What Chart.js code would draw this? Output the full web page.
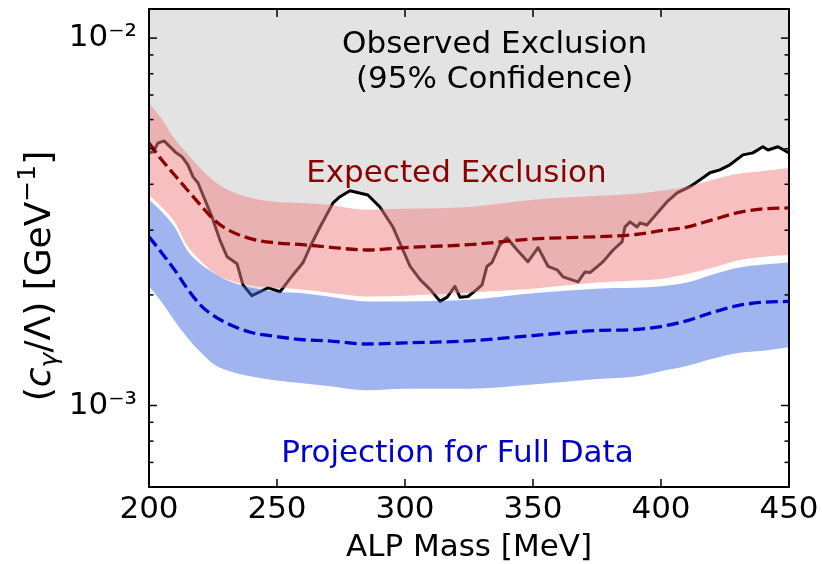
<!DOCTYPE html>
<html>
<head>
<meta charset="utf-8">
<script src="https://cdn.jsdelivr.net/npm/chart.js@4.4.1/dist/chart.umd.min.js"></script>
<style>
html,body{margin:0;padding:0;background:#ffffff;}
#c{display:block;}
</style>
</head>
<body>
<canvas id="c" width="822" height="564"></canvas>
<script>
// ---------- data (limits in units of 1e-3 GeV^-1) ----------
const massGrid = [200,205,210,215,220,225,230,240,250,260,270,285,300,325,350,375,390,400,410,420,430,440,450];

const expectedHi  = [6.66,6.02,5.31,4.84,4.43,4.10,3.89,3.67,3.58,3.56,3.52,3.41,3.43,3.47,3.63,3.72,3.77,3.84,3.94,4.11,4.27,4.35,4.43];
const expectedMed = [5.18,4.66,4.24,3.86,3.52,3.22,3.03,2.84,2.77,2.74,2.70,2.65,2.69,2.74,2.84,2.88,2.92,2.99,3.06,3.20,3.35,3.43,3.45];
const expectedLo  = [3.74,3.47,3.16,2.72,2.48,2.31,2.21,2.12,2.09,2.07,2.03,1.98,1.99,2.03,2.08,2.16,2.19,2.21,2.28,2.37,2.48,2.54,2.57];

const projectionHi  = [3.63,3.37,3.06,2.64,2.43,2.30,2.20,2.09,2.04,2.02,1.98,1.92,1.92,1.94,2.02,2.08,2.09,2.11,2.16,2.27,2.37,2.42,2.45];
const projectionMed = [2.88,2.60,2.34,2.08,1.88,1.76,1.68,1.58,1.54,1.51,1.50,1.47,1.48,1.50,1.55,1.60,1.61,1.64,1.70,1.79,1.87,1.91,1.92];
const projectionLo  = [2.11,1.91,1.70,1.53,1.40,1.30,1.25,1.20,1.17,1.15,1.13,1.10,1.11,1.11,1.14,1.18,1.20,1.24,1.28,1.34,1.39,1.41,1.44];

const obsMass = [200,201.6,203.5,205.9,210.2,212.9,215.2,217.2,219.1,224.6,227.7,230.5,234.4,236.7,240.2,243.4,246.5,251.2,256.3,260.2,
  262.9,266.8,271.9,274.6,278.5,285.5,290.2,295.3,299.2,302.0,305.9,309.8,313.7,316.4,319.5,321.5,324.6,328.1,330.1,332.0,
  334.0,337.1,339.8,343.8,348.0,352.0,355.9,359.4,361.7,367.6,370.3,372.3,377.3,381.3,384.8,385.9,387.9,390.6,391.8,394.5,
  402.3,406.3,411.3,416.4,419.1,423.0,426.9,432.0,435.9,439.8,441.8,445.7,450];
const obsLimit = [4.87,4.90,5.18,5.25,4.90,4.75,4.52,4.19,4.04,3.26,2.82,2.54,2.43,2.13,1.99,2.04,2.09,2.04,2.27,2.45,
  2.70,3.06,3.56,3.70,3.84,3.74,3.47,3.06,2.65,2.39,2.20,2.07,1.92,1.97,2.11,1.97,1.98,2.07,2.13,2.39,
  2.45,2.74,2.86,2.65,2.46,2.69,2.39,2.34,2.24,2.17,2.31,2.30,2.46,2.65,2.79,3.06,3.16,3.06,3.14,3.10,
  3.58,3.79,3.94,4.17,4.30,4.38,4.52,4.81,4.87,5.06,4.96,5.06,4.87];

const xTickValues = [200,250,300,350,400,450];
const yMajorTicks = [1e-3,1e-2];
const yMinorTicks = [6e-4,7e-4,8e-4,9e-4,2e-3,3e-3,4e-3,5e-3,6e-3,7e-3,8e-3,9e-3];

// annotation texts (anchored in data coordinates)
const notes = [
  {text:'Observed Exclusion', x:335, y:9.57e-3, color:'#000000'},
  {text:'(95% Confidence)', x:335, y:7.69e-3, color:'#000000'},
  {text:'Expected Exclusion', x:320.1, y:4.27e-3, color:'#8b0000'},
  {text:'Projection for Full Data', x:320.5, y:7.36e-4, color:'#0000cd'}
];

// ---------- helpers ----------
const UNIT = 1e-3;
const pts = (xs, ys) => xs.map((x, i) => ({x: x, y: ys[i] * UNIT}));
const SUP = {'-':'\u207B','0':'\u2070','1':'\u00B9','2':'\u00B2','3':'\u00B3','4':'\u2074','5':'\u2075','6':'\u2076','7':'\u2077','8':'\u2078','9':'\u2079'};
const sup = n => String(n).split('').map(c => SUP[c]).join('');
const FONT = "'DejaVu Sans'";

const decor = {
  id: 'decor',
  afterDatasetsDraw(chart) {
    const ctx = chart.ctx, xs = chart.scales.x, ys = chart.scales.y;
    ctx.save();
    ctx.font = '31px ' + FONT;
    ctx.textAlign = 'center';
    ctx.textBaseline = 'middle';
    notes.forEach(n => {
      ctx.fillStyle = n.color;
      ctx.fillText(n.text, xs.getPixelForValue(n.x), ys.getPixelForValue(n.y));
    });
    ctx.restore();
  },
  afterDraw(chart) {
    const ctx = chart.ctx, xs = chart.scales.x, ys = chart.scales.y;
    const {left, right, top, bottom} = chart.chartArea;
    ctx.save();
    ctx.strokeStyle = '#000';
    ctx.lineWidth = 1.5;
    const seg = (x1, y1, x2, y2) => { ctx.beginPath(); ctx.moveTo(x1, y1); ctx.lineTo(x2, y2); ctx.stroke(); };
    xTickValues.forEach(v => { const p = xs.getPixelForValue(v); seg(p, bottom, p, bottom - 8); seg(p, top, p, top + 8); });
    yMajorTicks.forEach(v => { const p = ys.getPixelForValue(v); seg(left, p, left + 8, p); seg(right, p, right - 8, p); });
    yMinorTicks.forEach(v => { const p = ys.getPixelForValue(v); seg(left, p, left + 4.5, p); seg(right, p, right - 4.5, p); });
    ctx.lineWidth = 2;
    ctx.strokeRect(left, top, right - left, bottom - top);

    // y-axis title with math styling
    const size = 36;
    const parts = [
      {t:'(', f: size + 'px ' + FONT, dy: 0},
      {t:'c', f: 'italic ' + size + 'px ' + FONT, dy: 0},
      {t:'\u03B3', f: 'italic ' + Math.round(size * 0.7) + 'px ' + FONT, dy: size * 0.2},
      {t:'/\u039B) [GeV', f: size + 'px ' + FONT, dy: 0},
      {t:'\u22121', f: Math.round(size * 0.7) + 'px ' + FONT, dy: -size * 0.42},
      {t:']', f: size + 'px ' + FONT, dy: 0}
    ];
    let total = 0;
    parts.forEach(p => { ctx.font = p.f; p.w = ctx.measureText(p.t).width; total += p.w; });
    const cx = 37, cy = (top + bottom) / 2 + 28;
    ctx.translate(cx, cy);
    ctx.rotate(-Math.PI / 2);
    ctx.fillStyle = '#000';
    ctx.textAlign = 'left';
    ctx.textBaseline = 'alphabetic';
    let x = -total / 2;
    const base = size * 0.36;
    parts.forEach(p => { ctx.font = p.f; ctx.fillText(p.t, x, base + p.dy); x += p.w; });
    ctx.restore();
  }
};

const ctx = document.getElementById('c').getContext('2d');
const bandLine = {borderColor:'rgba(0,0,0,0)', borderWidth:0, pointRadius:0, cubicInterpolationMode:'monotone'};

new Chart(ctx, {
  type: 'line',
  data: {
    datasets: [
      {label:'Projection (median)', data: pts(massGrid, projectionMed), borderColor:'#0000cd', borderWidth:3.3, borderDash:[12,5], pointRadius:0, fill:false, cubicInterpolationMode:'monotone'},
      {label:'Expected (median)', data: pts(massGrid, expectedMed), borderColor:'#8b0000', borderWidth:3.3, borderDash:[12,5], pointRadius:0, fill:false, cubicInterpolationMode:'monotone'},
      Object.assign({}, bandLine, {label:'Projection band upper', data: pts(massGrid, projectionHi), backgroundColor:'rgba(65,105,225,0.5)', fill:'+1'}),
      Object.assign({}, bandLine, {label:'Projection band lower', data: pts(massGrid, projectionLo), fill:false}),
      Object.assign({}, bandLine, {label:'Expected band upper', data: pts(massGrid, expectedHi), backgroundColor:'rgba(240,128,128,0.5)', fill:'+1'}),
      Object.assign({}, bandLine, {label:'Expected band lower', data: pts(massGrid, expectedLo), fill:false}),
      {label:'Observed', data: pts(obsMass, obsLimit), borderColor:'#000000', borderWidth:3, borderJoinStyle:'round', backgroundColor:'#e3e3e3', fill:'end', pointRadius:0, tension:0}
    ]
  },
  options: {
    responsive: false,
    animation: false,
    devicePixelRatio: 1,
    layout: {padding: {top: 9, right: 33, left: 0, bottom: 0}},
    plugins: {legend: {display: false}, tooltip: {enabled: false}},
    scales: {
      x: {
        type: 'linear', min: 200, max: 450,
        afterFit(s) { s.height = 77; s.paddingLeft = 0; s.paddingRight = 0; },
        grid: {display: false, drawTicks: false},
        border: {display: false},
        ticks: {stepSize: 50, padding: 7, autoSkip: false, maxRotation: 0, color: '#000', font: {family: FONT, size: 31, lineHeight: 1}},
        title: {display: true, text: 'ALP Mass [MeV]', color: '#000', font: {family: FONT, size: 31, lineHeight: 1}, padding: {top: 0, bottom: 1}}
      },
      y: {
        type: 'logarithmic', min: 6e-4, max: 1.2e-2,
        afterFit(s) { s.width = 149; s.paddingTop = 0; s.paddingBottom = 0; },
        grid: {display: false, drawTicks: false},
        border: {display: false},
        ticks: {
          autoSkip: false, padding: 12, color: '#000', font: {family: FONT, size: 31, lineHeight: 1},
          callback(v) {
            const e = Math.log10(v);
            if (yMajorTicks.some(t => Math.abs(t - v) / t < 1e-6)) return '10' + sup(Math.round(e));
            return null;
          }
        }
      }
    }
  },
  plugins: [decor]
});
</script>
</body>
</html>
